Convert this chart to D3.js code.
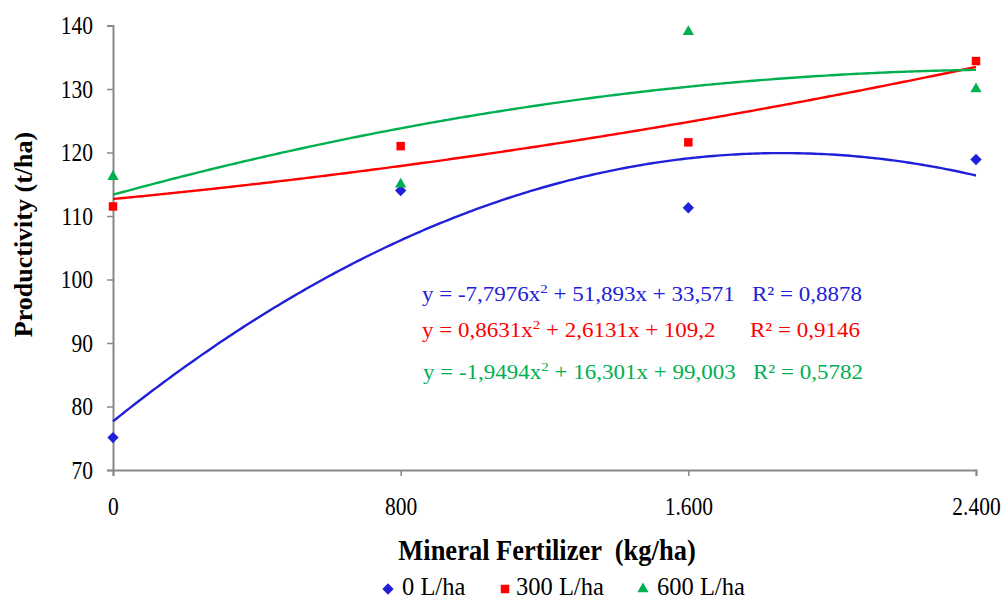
<!DOCTYPE html>
<html><head><meta charset="utf-8">
<script src="https://cdn.jsdelivr.net/npm/d3@7"></script>
<style>
body{margin:0;background:#fff}svg{display:block}
text{font-family:"Liberation Serif","Times New Roman",serif}
.tall{transform-box:fill-box;transform-origin:center;transform:scaleY(1.2)}
.eq{transform-box:fill-box;transform-origin:center;transform:scaleY(0.9)}
.xt{transform-box:fill-box;transform-origin:center;transform:scaleY(1.15)}
</style>
</head><body>
<svg id="c" width="1005" height="602"></svg>
<script>
const doses = [0, 800, 1600, 2400];
const xTicks = [0, 800, 1600, 2400];
const xTickLabels = ["0", "800", "1.600", "2.400"];
const yTicks = [70, 80, 90, 100, 110, 120, 130, 140];
const seriesNames = ["0 L/ha", "300 L/ha", "600 L/ha"];
const vals0 = [75.1, 114.0, 111.3, 118.9];
const vals300 = [111.5, 121.0, 121.6, 134.4];
const vals600 = [116.2, 115.0, 139.0, 130.0];
// trendline coefficients (a x^2 + b x + c, x = 1..4)
const coef0 = [-7.7976, 51.893, 33.571];
const coef300 = [0.8631, 2.6131, 109.2];
const coef600 = [-1.9494, 16.301, 99.003];
const eqLabels = [
  ["y = -7,7976x", " + 51,893x + 33,571", "R² = 0,8878"],
  ["y = 0,8631x", " + 2,6131x + 109,2", "R² = 0,9146"],
  ["y = -1,9494x", " + 16,301x + 99,003", "R² = 0,5782"]
];
const colors = ["#2020d8", "#ff0000", "#00b050"];

const diamond = { draw(ctx, size) { const r = Math.sqrt(size / 2); ctx.moveTo(0,-r); ctx.lineTo(r,0); ctx.lineTo(0,r); ctx.lineTo(-r,0); ctx.closePath(); } };
const symbols = [diamond, d3.symbolSquare, d3.symbolTriangle];
const sizes = [64, 72, 55];

const svg = d3.select("#c");
const x = d3.scaleLinear().domain([0, 2400]).range([113, 976]);
const y = d3.scaleLinear().domain([70, 140]).range([470, 25.5]);

// axes
const gy = svg.append("g").attr("transform", "translate(113,0)")
  .call(d3.axisLeft(y).tickValues(yTicks).tickSize(6).tickPadding(14));
const gx = svg.append("g").attr("transform", "translate(0,470)")
  .call(d3.axisBottom(x).tickValues(xTicks).tickFormat((d,i)=>xTickLabels[i]).tickSize(6).tickPadding(22));
[gx, gy].forEach(g => {
  g.select(".domain").attr("stroke", "#888").attr("stroke-width", 2);
  g.selectAll(".tick line").attr("stroke", "#888").attr("stroke-width", 1.5);
  g.selectAll("text").attr("font-family", "Liberation Serif").attr("font-size", 21.5).attr("fill", "#000").attr("class", "tall");
});

// trendlines
const coefs = [coef0, coef300, coef600];
const vals = [vals0, vals300, vals600];
const line = d3.line().x(d => x(d[0])).y(d => y(d[1]));
coefs.forEach((c, i) => {
  const pts = d3.range(0, 2400.01, 10).map(v => {
    const t = v / 800 + 1;
    return [v, c[0]*t*t + c[1]*t + c[2]];
  });
  svg.append("path").attr("d", line(pts)).attr("fill", "none")
    .attr("stroke", colors[i]).attr("stroke-width", 2.4);
});

// points
vals.forEach((vs, i) => {
  svg.append("g").selectAll("path").data(vs).join("path")
    .attr("transform", (d, j) => `translate(${x(doses[j])},${y(d)})`)
    .attr("d", d3.symbol().type(symbols[i]).size(sizes[i]))
    .attr("fill", colors[i]);
});

// equations
const eqY = [302, 338, 380];
const eqX = [422, 422, 423];
const rX = [752, 750, 753];
eqLabels.forEach((e, i) => {
  const t = svg.append("text").attr("class", "eq").attr("x", eqX[i]).attr("y", eqY[i]).attr("font-size", 23).attr("fill", colors[i]);
  t.append("tspan").text(e[0]);
  t.append("tspan").attr("dy", -9).attr("font-size", 15).text("2");
  t.append("tspan").attr("dy", 9).text(e[1]);
  svg.append("text").attr("class", "eq").attr("x", rX[i]).attr("y", eqY[i]).attr("font-size", 23).attr("fill", colors[i]).text(e[2]);
});

// axis titles
svg.append("text").attr("transform", "translate(32,234.5) rotate(-90)").attr("text-anchor", "middle")
  .attr("font-size", 26).attr("font-weight", "bold").text("Productivity (t/ha)");
svg.append("text").attr("class", "xt").attr("x", 547).attr("y", 559).attr("text-anchor", "middle")
  .attr("font-size", 26.5).attr("font-weight", "bold").style("white-space","pre").text("Mineral Fertilizer  (kg/ha)");

// legend
const legX = [388, 505, 643];
const legT = [402, 516, 657];
seriesNames.forEach((n, i) => {
  svg.append("path").attr("transform", `translate(${legX[i]},${589})`)
    .attr("d", d3.symbol().type(symbols[i]).size(sizes[i])).attr("fill", colors[i]);
  svg.append("text").attr("x", legT[i]).attr("y", 595).attr("font-size", 24.5).text(n);
});
</script>
</body></html>
